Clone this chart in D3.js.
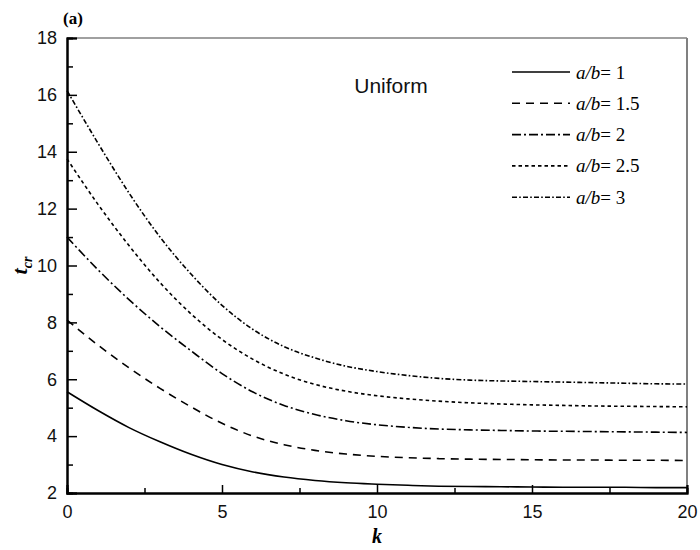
<!DOCTYPE html>
<html>
<head>
<meta charset="utf-8">
<script src="https://cdn.jsdelivr.net/npm/d3@7"></script>
<style>
  html, body { margin: 0; padding: 0; background: #fff; }
  svg { display: block; }
</style>
</head>
<body>
<svg id="chart" width="700" height="550"></svg>
<script>
// Critical buckling value t_cr against k for several aspect ratios (uniform load)
const kValues = [0,1,2,3,4,5,6,7,8,9,10,11,12,13,14,15,16,17,18,19,20];
const ratioLabels = ["1", "1.5", "2", "2.5", "3"];
const tcrRatio1   = [5.56,4.90,4.30,3.80,3.36,3.00,2.74,2.56,2.44,2.36,2.31,2.27,2.24,2.23,2.22,2.21,2.20,2.20,2.20,2.19,2.19];
const tcrRatio1_5 = [8.08,7.20,6.40,5.68,5.03,4.45,4.00,3.70,3.50,3.37,3.29,3.24,3.21,3.19,3.18,3.17,3.16,3.16,3.15,3.15,3.14];
const tcrRatio2   = [11.0,9.85,8.80,7.85,7.00,6.20,5.55,5.08,4.76,4.54,4.40,4.31,4.25,4.22,4.20,4.18,4.17,4.16,4.15,4.14,4.13];
const tcrRatio2_5 = [13.75,12.15,10.70,9.40,8.30,7.40,6.70,6.18,5.82,5.58,5.42,5.31,5.23,5.17,5.13,5.10,5.08,5.06,5.05,5.04,5.03];
const tcrRatio3   = [16.15,14.30,12.55,11.00,9.70,8.60,7.75,7.15,6.75,6.46,6.27,6.13,6.03,5.97,5.94,5.92,5.90,5.88,5.86,5.84,5.83];
const xTicks = [0, 5, 10, 15, 20];
const xMinorTicks = [2.5, 7.5, 12.5, 17.5];
const yTicks = [2, 4, 6, 8, 10, 12, 14, 16, 18];
const yMinorTicks = [3, 5, 7, 9, 11, 13, 15, 17];

const seriesValues = [tcrRatio1, tcrRatio1_5, tcrRatio2, tcrRatio2_5, tcrRatio3];
const dashStyles = [null, "8,6", "9,3,2,3", "3.5,3", "5,2.2,1.6,2.2"];

const svg = d3.select("#chart");
const plotLeft = 67, plotRight = 687, plotTop = 38, plotBottom = 493;

const x = d3.scaleLinear().domain([0, 20]).range([plotLeft, plotRight]);
const y = d3.scaleLinear().domain([2, 18]).range([plotBottom, plotTop]);

const tickFont = "'Liberation Sans', Arial, sans-serif";
const serif = "'Liberation Serif', 'Times New Roman', serif";

// Frame: top and right edges in grey
svg.append("line").attr("x1", plotLeft).attr("x2", plotRight).attr("y1", plotTop).attr("y2", plotTop)
  .attr("stroke", "#808080").attr("stroke-width", 1.5);
svg.append("line").attr("x1", plotRight).attr("x2", plotRight).attr("y1", plotTop).attr("y2", plotBottom)
  .attr("stroke", "#808080").attr("stroke-width", 2);

// Curves
const line = d3.line()
  .x((d, i) => x(kValues[i]))
  .y(d => y(d))
  .curve(d3.curveMonotoneX);

const curves = svg.append("g");
seriesValues.forEach((vals, i) => {
  curves.append("path")
    .datum(vals)
    .attr("d", line)
    .attr("fill", "none")
    .attr("stroke", "#000")
    .attr("stroke-width", 1.6)
    .attr("stroke-dasharray", dashStyles[i]);
});

// Axes with inward ticks
const xAxis = svg.append("g").attr("transform", `translate(0,${plotBottom})`)
  .call(d3.axisBottom(x).tickValues(xTicks).tickSize(-8).tickPadding(12).tickFormat(d3.format("d")));
const xMinor = svg.append("g").attr("transform", `translate(0,${plotBottom})`)
  .call(d3.axisBottom(x).tickValues(xMinorTicks).tickSize(-5).tickFormat(""));
const yAxis = svg.append("g").attr("transform", `translate(${plotLeft},0)`)
  .call(d3.axisLeft(y).tickValues(yTicks).tickSize(-10).tickPadding(10).tickFormat(d3.format("d")));
const yMinor = svg.append("g").attr("transform", `translate(${plotLeft},0)`)
  .call(d3.axisLeft(y).tickValues(yMinorTicks).tickSize(-6).tickFormat(""));

[xAxis, xMinor, yAxis, yMinor].forEach(g => {
  g.select(".domain").attr("stroke", "#000").attr("stroke-width", 2);
  g.selectAll(".tick line").attr("stroke", "#000").attr("stroke-width", 1.5);
  g.selectAll("text").attr("font-family", tickFont).attr("font-size", 18).attr("fill", "#111");
});

// Axis titles
svg.append("text")
  .attr("x", x(10)).attr("y", 543)
  .attr("text-anchor", "middle")
  .attr("font-family", serif).attr("font-size", 20)
  .attr("font-weight", "bold").attr("font-style", "italic")
  .text("k");

const yTitle = svg.append("text")
  .attr("transform", `translate(27,${(plotTop + plotBottom) / 2}) rotate(-90)`)
  .attr("text-anchor", "middle")
  .attr("font-family", serif).attr("font-weight", "bold").attr("font-style", "italic");
yTitle.append("tspan").attr("font-size", 22).text("t");
yTitle.append("tspan").attr("font-size", 14).attr("dy", 5).text("cr");

// Panel tag
svg.append("text")
  .attr("x", 63).attr("y", 24)
  .attr("font-family", serif).attr("font-size", 17).attr("font-weight", "bold")
  .text("(a)");

// Load case label
svg.append("text")
  .attr("x", 391).attr("y", 93)
  .attr("text-anchor", "middle")
  .attr("font-family", tickFont).attr("font-size", 21)
  .attr("fill", "#111")
  .text("Uniform");

// Legend
const legend = svg.append("g");
ratioLabels.forEach((lab, i) => {
  const ly = 72 + i * 31.3;
  legend.append("line")
    .attr("x1", 512).attr("x2", 570).attr("y1", ly).attr("y2", ly)
    .attr("stroke", "#000").attr("stroke-width", 1.6)
    .attr("stroke-dasharray", dashStyles[i]);
  const t = legend.append("text")
    .attr("x", 576).attr("y", ly + 6.5)
    .attr("font-family", serif).attr("font-size", 19);
  t.append("tspan").attr("font-style", "italic").text("a/b");
  t.append("tspan").text("= " + lab);
});
</script>
</body>
</html>
